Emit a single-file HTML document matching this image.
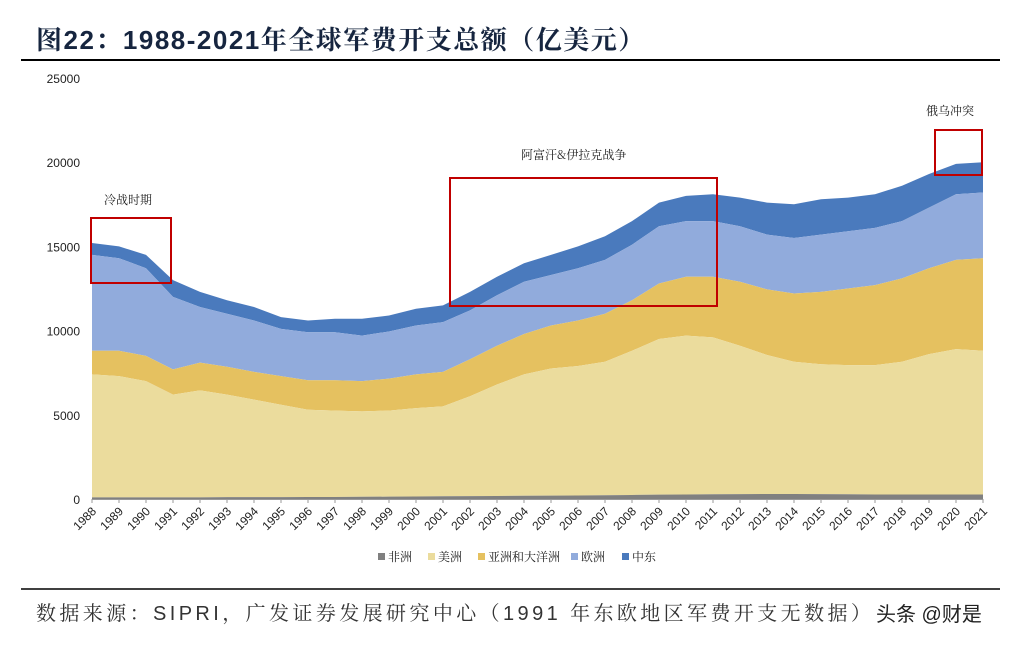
<!DOCTYPE html>
<html><head><meta charset="utf-8"><style>
body{margin:0;background:#fff;width:1033px;height:651px;overflow:hidden;position:relative;font-family:"Liberation Sans","Noto Sans CJK SC",sans-serif}
</style></head><body>
<svg id="s" width="1033" height="651" xmlns="http://www.w3.org/2000/svg" style="position:absolute;left:0;top:0">
<text x="36" y="49" font-size="26" font-weight="bold" fill="#16253f" letter-spacing="1.5" font-family="Liberation Sans,Noto Serif CJK SC,serif">图22：1988-2021年全球军费开支总额（亿美元）</text>
<line x1="21" y1="60" x2="1000" y2="60" stroke="#000" stroke-width="2"/>
<line x1="21" y1="589" x2="1000" y2="589" stroke="#000" stroke-width="1.5"/>
<text x="36" y="620" font-size="20" fill="#333" letter-spacing="3.4" font-family="Liberation Sans,Noto Serif CJK SC,serif">数据来源：SIPRI，广发证券发展研究中心（1991 年东欧地区军费开支无数据）</text>
<text x="876" y="621" font-size="20" fill="#222" font-family="Liberation Sans,Noto Sans CJK SC,sans-serif">头条 @财是</text>
<g id="c"></g>
</svg>
<script>
var af=[100,100,100,100,100,110,110,110,120,120,130,140,150,160,170,180,190,200,210,220,240,260,270,280,290,300,300,290,280,270,270,270,270,270];
var am=[7400,7300,7000,6200,6450,6200,5900,5600,5300,5250,5200,5250,5400,5500,6100,6800,7400,7750,7900,8150,8800,9500,9700,9600,9100,8550,8150,8000,7950,7950,8150,8600,8900,8800];
var as=[8800,8800,8500,7700,8100,7850,7550,7300,7050,7050,7000,7150,7400,7550,8300,9100,9800,10300,10600,11000,11800,12800,13200,13200,12900,12450,12200,12300,12500,12700,13100,13700,14200,14300];
var eu=[14500,14300,13700,12000,11400,11000,10600,10100,9900,9900,9700,9950,10300,10500,11200,12100,12900,13300,13700,14200,15100,16200,16500,16500,16200,15700,15500,15700,15900,16100,16500,17300,18100,18200];
var me=[15200,15000,14500,13000,12300,11800,11400,10800,10600,10700,10700,10900,11300,11500,12300,13200,14000,14500,15000,15600,16500,17600,18000,18100,17900,17600,17500,17800,17900,18100,18600,19300,19900,20000];
var X=function(i){return 92+i*27};var Y=function(v){return 499-v*421/25000};
var h='';
var series=[[me,eu,'#4a7abd'],[eu,as,'#91abdc'],[as,am,'#e5c160'],[am,af,'#ebdc9d'],[af,null,'#808080']];
series.forEach(function(s){var p='M';for(var i=0;i<34;i++)p+=X(i)+','+Y(s[0][i])+' L';
for(var i=33;i>=0;i--)p+=X(i)+','+Y(s[1]?s[1][i]:0)+(i?' L':'');h+='<path d="'+p+'Z" fill="'+s[2]+'"/>';});
h+='<line x1="92" y1="499.5" x2="983" y2="499.5" stroke="#999"/>';
for(var k=0;k<=5;k++){h+='<text x="80" y="'+(Y(k*5000)+5)+'" font-size="12" text-anchor="end" fill="#222">'+(k*5000)+'</text>';}
for(var i=0;i<34;i++){h+='<line x1="'+X(i)+'" y1="499" x2="'+X(i)+'" y2="503" stroke="#999"/>';
h+='<text transform="translate('+(X(i)+5)+',512) rotate(-45)" font-size="12" text-anchor="end" fill="#222">'+(1988+i)+'</text>';}
h+='<rect x="91" y="218" width="80" height="65" fill="none" stroke="#c00000" stroke-width="2"/>';
h+='<rect x="450" y="178" width="267" height="128" fill="none" stroke="#c00000" stroke-width="2"/>';
h+='<rect x="935" y="130" width="47" height="45" fill="none" stroke="#c00000" stroke-width="2"/>';
var sf=' font-family="Noto Serif CJK SC,serif"';
h+='<text x="104" y="204" font-size="12" fill="#222"'+sf+'>冷战时期</text>';
h+='<text x="521" y="159" font-size="12" fill="#222"'+sf+'>阿富汗&amp;伊拉克战争</text>';
h+='<text x="926" y="115" font-size="12" fill="#222"'+sf+'>俄乌冲突</text>';
var lg=[['非洲','#808080',378],['美洲','#ebdc9d',428],['亚洲和大洋洲','#e5c160',478],['欧洲','#91abdc',571],['中东','#4a7abd',622]];
lg.forEach(function(l){h+='<rect x="'+l[2]+'" y="553" width="7" height="7" fill="'+l[1]+'"/><text x="'+(l[2]+10)+'" y="561" font-size="12" fill="#222"'+sf+'>'+l[0]+'</text>';});
document.getElementById('c').innerHTML=h;
</script>
</body></html>
